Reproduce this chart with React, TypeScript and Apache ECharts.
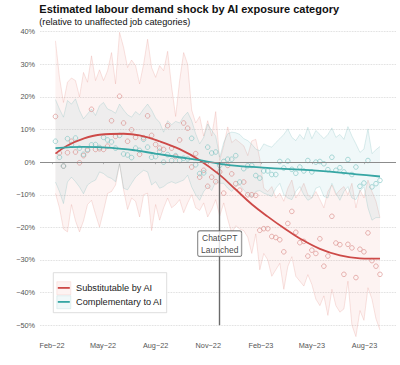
import React, { useEffect, useRef } from "react";
import * as echarts from "echarts";

// x positions are days after 1 Feb 2022; weekly observations start 7 Feb 2022
const START_DAY = 6;
const WEEK = 7;
const X_MIN = -21;
const X_MAX = 601;
const tickDays = [0, 89, 181, 273, 365, 454, 546];
const tickLabels = ["Feb−22", "May−22", "Aug−22", "Nov−22", "Feb−23", "May−23", "Aug−23"];
const chatgptDay = 293;
const annotationY = -25;

const redPts = [
  14.0, 2.8, -1.2, 2.9, 6.4, 3.1, -0.2, 2.0, 3.6, 16.2, 3.9, 4.1, 3.9, 4.9, 12.7, 7.9, 20.2, 12.0, 6.4, 9.9,
  7.6, 2.4, 7.5, 14.2, 8.2, 5.4, 4.3, 3.9, 11.2, 4.3, 1.7, 6.8, 12.0, 10.4, -1.5, 2.6, -4.6, -2.5, -7.4, -4.6,
  -6.0, -3.0, -9.5, -1.0, -3.6, -6.6, -8.6, -6.1, -10.0, -10.0, -10.2, -20.9, -20.4, -20.4, -22.8, -23.1, -23.8, -27.5, -18.8, -15.1,
  -21.5, -24.7, -24.3, -28.8, -27.0, -28.0, -23.5, -31.9, -28.8, -16.6, -24.8, -25.3, -34.4, -25.2, -26.3, -35.4, -26.7, -27.5, -21.7, -30.2,
  -31.9, -34.4,
];
const tealPts = [
  6.4, 1.5, -1.2, 7.2, 5.4, 7.4, 4.3, 2.4, 3.9, 5.3, 5.4, 4.5, 7.6, 6.8, 6.2, 4.3, 8.2, 2.5, 2.2, 1.4,
  4.3, 3.6, 7.0, 4.6, 1.5, 1.7, 3.3, 0.0, 2.3, 0.5, 2.0, 0.5, 1.2, 1.0, 7.3, -0.8, -3.5, -3.3, 4.6, 2.8,
  3.1, -1.0, 0.2, 0.9, 0.9, 2.0, -6.1, -2.0, -1.1, -1.0, -4.1, -4.9, -2.7, -2.7, -3.8, -3.8, 0.2, -1.8, 0.3, -2.2,
  -3.4, -1.5, -2.7, 0.5, -3.0, 0.0, 0.2, -0.5, -2.3, 1.5, -2.5, -1.7, -3.0, 0.8, -3.8, -1.5, -7.4, -6.4, 0.5, -7.6,
  -6.6, -5.6,
];
const redHi = [
  37.2, 26, 18.3, 24.5, 25.8, 25, 20, 27.5, 24.5, 32.6, 25, 28.3, 25, 28, 33.6, 24, 39.8, 35.2, 29, 31.3,
  29.6, 24, 30, 37.7, 29, 26, 29.6, 28, 34, 23, 14, 25, 33.6, 30, 16, 12, 14, 8, 12.7, 8,
  15.5, 0.5, 5, 10.8, 6, 7, 6, 5, 2, 6.5, 7, 1, -8, -9, -7.5, -11, -9.5, -12, -8, -5.5,
  -11, -9, -6.5, -10, -11, -9, -11.5, -14, -9, -7, -10, -8.5, -7.5, -10, -6.5, -14, -8.5, -11, -5.5, -9,
  -12, -17,
];
const redLo = [
  -9.6, -14, -20.5, -21.4, -13, -18, -21.4, -18, -13, -11.7, -16, -19.9, -15, -9.6, -9, -7, -0.5, -8.5, -14.5, -11,
  -12, -16.8, -10, -9.5, -21, -13, -17.8, -14, -11, -14, -13, -11.5, -15.5, -12.5, -10, -14, -14.8, -12.5, -16.8, -14.5,
  -11.5, -16.5, -12.5, -17.5, -21.8, -19.5, -20.5, -21, -23, -28, -22, -33, -28, -30, -35, -33, -31, -39, -32, -29,
  -35, -36.5, -38, -34.5, -37.5, -42, -44, -41, -47, -39, -44, -46, -45, -36.5, -50, -53.5, -45.5, -48.5, -38.5, -42,
  -48, -51.5,
];
const tealHi = [
  19.2, 16.3, 13.8, 18.9, 17.8, 19.4, 15.8, 13.3, 14.8, 16.3, 14.3, 17.3, 18.3, 16.3, 15.8, 15, 17.8, 16, 14.5, 13.8,
  15.5, 14.5, 16.3, 17.8, 16, 13.5, 12.2, 9.2, 12.7, 11.5, 12.5, 12, 14, 15.3, 12.7, 8.7, 5.6, 7.6, 11.7, 9.7,
  8, 1.5, 6, 8.7, 9.2, 9, 8.5, 7.2, 6.6, 5.5, 4, 3.5, 5.6, 5, 4.6, 6, 7.2, 8.5, 10.2, 7.6,
  6.6, 8.5, 7, 10.7, 7.2, 9.7, 8.5, 7.2, 8.5, 10.5, 7.6, 8.5, 7, 10.9, 8, 5.6, 3, 4, 10.2, 2.6,
  3.8, 4.8,
];
const tealLo = [
  -6.1, -9, -12.7, -6.1, -4.6, -6, -7.6, -9.7, -7, -6.1, -5.5, -3, -3.5, -4.5, -5, -6, -0.5, -8, -8.5, -6.5,
  -4.6, -3.5, -2.5, -3, -7, -6, -8, -7.5, -6.5, -6, -6.5, -6, -5.5, -4, -7.6, -10, -11.7, -9, -7.5, -8.7,
  -6, -6.5, -6.5, -8, -9, -7.5, -7, -8.5, -10, -11, -9, -8.7, -9.5, -10, -10.5, -8, -6.5, -10, -11, -11.5,
  -9, -7.5, -10, -11.7, -11, -8, -7.5, -10.5, -11, -6.5, -9.5, -11.7, -9, -7.5, -11, -11.5, -9, -7.5, -14, -17.8,
  -17, -17,
];
const redTrendWeeks = [0, 3, 7, 11, 17, 21, 26, 31, 36, 41, 45, 49, 53, 57, 61, 66, 71, 76, 81];
const redTrend = [2.6, 5.1, 7.2, 8.4, 8.7, 8.2, 6.4, 4.0, 0.6, -3.9, -8.4, -12.9, -16.7, -20.2, -23.4, -26.6, -28.6, -29.5, -29.6];
const tealTrendWeeks = [0, 7, 14, 20, 25, 31, 36, 41, 46, 51, 56, 61, 66, 71, 76, 81];
const tealTrend = [4.3, 4.7, 4.4, 3.6, 2.6, 1.5, 0.6, -0.5, -1.2, -1.6, -2.0, -2.3, -2.7, -3.2, -3.8, -4.4];

const legendNames = ["Substitutable by AI", "Complementary to AI"];

const FONT = '"Liberation Sans", Arial, Helvetica, sans-serif';
const RED = "#cd4a48";
const TEAL = "#36a6a4";
const RED_PT = "#d98a88";
const TEAL_PT = "#7cc3c2";
const RED_FILL = "rgba(232,120,110,0.085)";
const TEAL_FILL = "rgba(110,190,200,0.10)";
const RED_EDGE = "rgba(225,130,120,0.32)";
const TEAL_EDGE = "rgba(100,175,175,0.32)";

const dayOf = (i: number) => START_DAY + WEEK * i;
const pairs = (arr: number[]) => arr.map((v, i) => [dayOf(i), v]);

function bandSeries(lo: number[], hi: number[], edge: string, fill: string) {
  return {
    type: "custom",
    silent: true,
    clip: false,
    z: 1,
    data: lo.map((v, i) => [dayOf(i), v, hi[i]]),
    encode: { x: 0, y: [1, 2] },
    renderItem: (params: any, api: any) => {
      if (params.dataIndex !== 0) return null;
      const top = hi.map((v, i) => api.coord([dayOf(i), v]));
      const bottom = lo.map((v, i) => api.coord([dayOf(i), v]));
      const poly = top.concat(bottom.slice().reverse());
      return {
        type: "group",
        children: [
          { type: "polygon", shape: { points: poly }, style: { fill, stroke: "none" } },
          { type: "polyline", shape: { points: top }, style: { fill: "none", stroke: edge, lineWidth: 0.7 } },
          { type: "polyline", shape: { points: bottom }, style: { fill: "none", stroke: edge, lineWidth: 0.7 } },
        ],
      };
    },
  };
}

export default function App() {
  const ref = useRef<HTMLDivElement>(null);
  useEffect(() => {
    document.body.style.margin = "0";
    if (!ref.current) return;
    const chart = echarts.init(ref.current, null, { renderer: "svg" });
    const lx = 53.3;
    const ly = 272.7;
    const option: any = {
      animation: false,
      textStyle: { fontFamily: FONT },
      grid: { left: 40, right: 4, top: 31.7, bottom: 39.8, outerBoundsMode: "none" },
      xAxis: {
        type: "value",
        min: X_MIN,
        max: X_MAX,
        offset: 13.3,
        axisLine: { show: false },
        axisTick: { show: true, length: 2, customValues: tickDays, lineStyle: { color: "#aaa", width: 0.8 } },
        axisLabel: {
          customValues: tickDays,
          formatter: (v: number) => {
            const k = tickDays.indexOf(v);
            return k >= 0 ? tickLabels[k] : "";
          },
          fontSize: 7.3,
          color: "#555",
          margin: 3,
          fontFamily: FONT,
        },
        splitLine: { show: false },
      },
      yAxis: {
        type: "value",
        min: -50,
        max: 40,
        interval: 10,
        axisLine: { show: false },
        axisTick: { show: false },
        axisLabel: {
          formatter: (v: number) => (v < 0 ? "−" : "") + Math.abs(v) + "%",
          fontSize: 7.3,
          color: "#555",
          margin: 5,
          fontFamily: FONT,
        },
        splitLine: { show: true, lineStyle: { color: "#d2d2d2", type: "dotted", width: 0.8 } },
      },
      series: [
        bandSeries(redLo, redHi, RED_EDGE, RED_FILL),
        bandSeries(tealLo, tealHi, TEAL_EDGE, TEAL_FILL),
        {
          type: "line",
          data: [],
          z: 2,
          silent: true,
          markLine: {
            silent: true,
            symbol: "none",
            label: { show: false },
            lineStyle: { color: "#8c8c8c", width: 1, type: "solid" },
            data: [{ yAxis: 0 }],
          },
        },
        {
          type: "scatter",
          name: legendNames[0] + " points",
          data: pairs(redPts),
          symbol: "circle",
          symbolSize: 4.6,
          clip: false,
          z: 3,
          itemStyle: { color: "rgba(255,255,255,0)", borderColor: RED_PT, borderWidth: 0.8 },
        },
        {
          type: "scatter",
          name: legendNames[1] + " points",
          data: pairs(tealPts),
          symbol: "circle",
          symbolSize: 4.6,
          clip: false,
          z: 3,
          itemStyle: { color: "rgba(255,255,255,0)", borderColor: TEAL_PT, borderWidth: 0.8 },
        },
        {
          type: "line",
          name: legendNames[0],
          data: redTrend.map((v, k) => [dayOf(redTrendWeeks[k]), v]),
          smooth: 0.4,
          symbol: "none",
          z: 4,
          lineStyle: { color: RED, width: 1.8 },
        },
        {
          type: "line",
          name: legendNames[1],
          data: tealTrend.map((v, k) => [dayOf(tealTrendWeeks[k]), v]),
          smooth: 0.4,
          symbol: "none",
          z: 4,
          lineStyle: { color: TEAL, width: 1.8 },
        },
        {
          type: "line",
          data: [],
          z: 5,
          silent: true,
          markLine: {
            silent: true,
            symbol: "none",
            label: { show: false },
            lineStyle: { color: "#6a6a6a", width: 1.4, type: "solid" },
            data: [[{ coord: [chatgptDay, 0] }, { coord: [chatgptDay, -50] }]],
          },
        },
        {
          type: "scatter",
          data: [[chatgptDay, annotationY]],
          symbolSize: 1,
          z: 6,
          silent: true,
          itemStyle: { color: "rgba(0,0,0,0)" },
          label: {
            show: true,
            position: "inside",
            formatter: "ChatGPT\nLaunched",
            fontSize: 8.5,
            lineHeight: 12,
            color: "#111",
            fontFamily: FONT,
            backgroundColor: "#fff",
            borderColor: "#555",
            borderWidth: 0.8,
            borderRadius: 2,
            padding: [1, 3, 0, 3],
            align: "center",
          },
        },
      ],
      graphic: [
        {
          type: "text",
          x: 39.3,
          y: 8.5,
          style: {
            text: "Estimated labour demand shock by AI exposure category",
            fontSize: 11,
            fontWeight: "bold",
            fontFamily: FONT,
            fill: "#111",
            verticalAlign: "middle",
          },
        },
        {
          type: "text",
          x: 39.3,
          y: 22,
          style: {
            text: "(relative to unaffected job categories)",
            fontSize: 9.2,
            fontFamily: FONT,
            fill: "#111",
            verticalAlign: "middle",
          },
        },
        {
          type: "rect",
          z: 10,
          shape: { x: lx, y: ly, width: 113.4, height: 40 },
          style: { fill: "#fff", stroke: "#d4d4d4", lineWidth: 0.8 },
        },
        {
          type: "rect",
          z: 11,
          shape: { x: lx + 3.5, y: ly + 9, width: 14, height: 13 },
          style: { fill: RED_FILL, stroke: "rgba(225,130,120,0.25)", lineWidth: 0.6 },
        },
        {
          type: "rect",
          z: 11,
          shape: { x: lx + 3.5, y: ly + 23, width: 14, height: 13 },
          style: { fill: TEAL_FILL, stroke: "rgba(100,175,175,0.25)", lineWidth: 0.6 },
        },
        {
          type: "line",
          z: 12,
          shape: { x1: lx + 4.5, y1: ly + 15.2, x2: lx + 16.5, y2: ly + 15.2 },
          style: { stroke: RED, lineWidth: 1.8 },
        },
        {
          type: "line",
          z: 12,
          shape: { x1: lx + 4.5, y1: ly + 29.2, x2: lx + 16.5, y2: ly + 29.2 },
          style: { stroke: TEAL, lineWidth: 1.8 },
        },
        {
          type: "text",
          z: 12,
          x: lx + 22.7,
          y: ly + 15.2,
          style: { text: legendNames[0], fontSize: 9.2, fontFamily: FONT, fill: "#222", verticalAlign: "middle" },
        },
        {
          type: "text",
          z: 12,
          x: lx + 22.7,
          y: ly + 29.2,
          style: { text: legendNames[1], fontSize: 9.2, fontFamily: FONT, fill: "#222", verticalAlign: "middle" },
        },
      ],
    };
    chart.setOption(option);
    return () => chart.dispose();
  }, []);
  return <div ref={ref} style={{ width: 400, height: 365 }} />;
}
